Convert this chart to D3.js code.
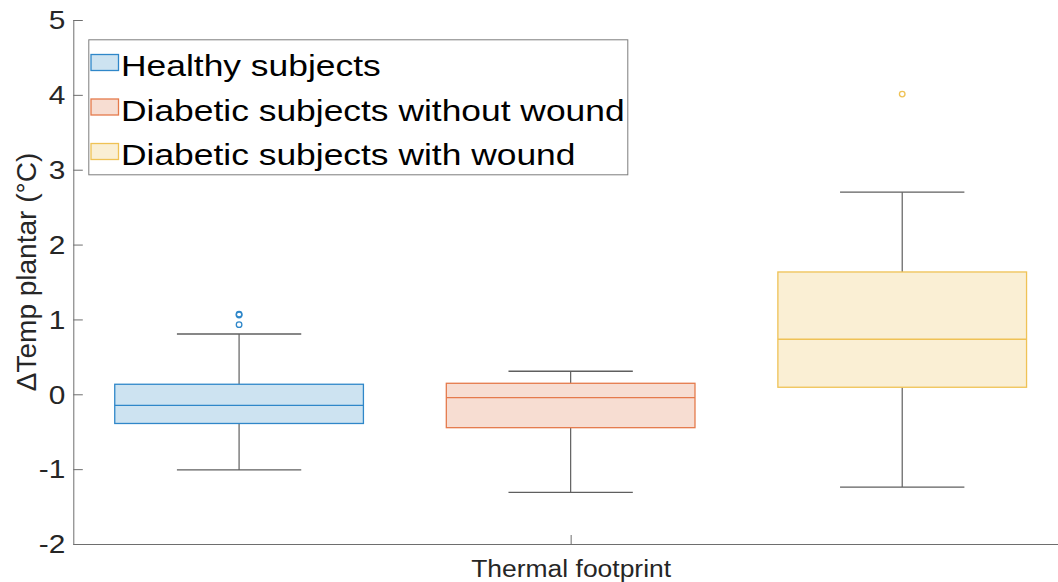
<!DOCTYPE html>
<html>
<head>
<meta charset="utf-8">
<script src="https://cdn.jsdelivr.net/npm/d3@7"></script>
<style>
  html, body { margin: 0; padding: 0; background: #fff; }
  svg { display: block; font-family: "Liberation Sans", Arial, Helvetica, sans-serif; }
</style>
</head>
<body>
<svg id="chart" width="1058" height="582"></svg>
<script>
// Group names and box-plot statistics (ΔTemp plantar, °C)
const groups = ["Healthy subjects", "Diabetic subjects without wound", "Diabetic subjects with wound"];
const whiskerLow  = [-1.01, -1.31, -1.24];
const q1          = [-0.39, -0.446, 0.094];
const median      = [-0.147, -0.045, 0.735];
const q3          = [0.134, 0.147, 1.634];
const whiskerHigh = [0.805, 0.307, 2.70];
const outliers    = [[1.07, 1.06, 0.93], [], [4.01]];
const yTicks = [-2, -1, 0, 1, 2, 3, 4, 5];
const xCategories = ["Thermal footprint"];

// Per-group colours: edge and translucent fill
const edgeColors = ["#2f87c9", "#e57a4c", "#efc255"];
const fillColors = ["#cde3f1", "#f7ddd2", "#faefd4"];

const svg = d3.select("#chart");
const plotLeft = 73.3, plotRight = 1068, plotTop = 20, plotBottom = 544;

const x = d3.scaleLinear().domain([0.5, 1.5]).range([plotLeft, plotRight]);
const y = d3.scaleLinear().domain([-2, 5]).range([plotBottom, plotTop]);

const boxW = 0.25;           // box width in category units
const capW = boxW / 2;       // whisker cap width
const groupPos = i => 1 + (i - 1) / 3;   // boxes grouped around the category

const axisColor = "#6e6e6e";
const textColor = "#262626";
const whiskerColor = "#5f5f5f";
const stretch = 1.17;        // horizontal stretch of the text glyphs

// Y axis
const yAxis = d3.axisLeft(y).tickValues(yTicks).tickSizeInner(-9.5).tickSizeOuter(0).tickPadding(0);
const gy = svg.append("g").attr("transform", `translate(${plotLeft},0)`).call(yAxis);
gy.select(".domain").attr("stroke", axisColor).attr("d", `M0.5,${plotTop}V${plotBottom}`);
gy.selectAll(".tick line").attr("stroke", axisColor);
gy.selectAll(".tick text")
  .attr("x", 0).attr("dy", null)
  .attr("dominant-baseline", "central")
  .attr("fill", textColor)
  .style("font-size", "25.5px")
  .attr("transform", `translate(-8,0) scale(${stretch},1)`)
  .text(d => d);

// X axis
const xAxis = d3.axisBottom(x).tickValues([1]).tickFormat((d, i) => xCategories[i])
  .tickSizeInner(-9).tickSizeOuter(0).tickPadding(0);
const gx = svg.append("g").attr("transform", `translate(0,${plotBottom})`).call(xAxis);
gx.select(".domain").attr("stroke", axisColor).attr("d", `M${plotLeft},0.5H${plotRight}`);
gx.selectAll(".tick line").attr("stroke", axisColor);
gx.selectAll(".tick text")
  .attr("y", 0).attr("dy", null)
  .attr("fill", textColor)
  .style("font-size", "24.5px")
  .attr("transform", `translate(0,33) scale(1.08,1)`);

// Y axis label
svg.append("text")
  .attr("transform", `translate(36,272) rotate(-90)`)
  .attr("text-anchor", "middle")
  .attr("fill", textColor)
  .style("font-size", "28px")
  .text("ΔTemp plantar (°C)");

// Boxes
const boxes = svg.append("g");
groups.forEach((g, i) => {
  const cx = x(groupPos(i));
  const bx0 = x(groupPos(i) - boxW / 2), bx1 = x(groupPos(i) + boxW / 2);
  const cx0 = x(groupPos(i) - capW / 2), cx1 = x(groupPos(i) + capW / 2);
  const grp = boxes.append("g");
  // whiskers
  grp.append("line").attr("x1", cx).attr("x2", cx).attr("y1", y(q3[i])).attr("y2", y(whiskerHigh[i]))
    .attr("stroke", whiskerColor).attr("stroke-width", 1.2);
  grp.append("line").attr("x1", cx).attr("x2", cx).attr("y1", y(q1[i])).attr("y2", y(whiskerLow[i]))
    .attr("stroke", whiskerColor).attr("stroke-width", 1.2);
  grp.append("line").attr("x1", cx0).attr("x2", cx1).attr("y1", y(whiskerHigh[i])).attr("y2", y(whiskerHigh[i]))
    .attr("stroke", whiskerColor).attr("stroke-width", 1.4);
  grp.append("line").attr("x1", cx0).attr("x2", cx1).attr("y1", y(whiskerLow[i])).attr("y2", y(whiskerLow[i]))
    .attr("stroke", whiskerColor).attr("stroke-width", 1.4);
  // box
  grp.append("rect")
    .attr("x", bx0).attr("y", y(q3[i]))
    .attr("width", bx1 - bx0).attr("height", y(q1[i]) - y(q3[i]))
    .attr("fill", fillColors[i]).attr("stroke", edgeColors[i]).attr("stroke-width", 1.3);
  // median
  grp.append("line").attr("x1", bx0).attr("x2", bx1).attr("y1", y(median[i])).attr("y2", y(median[i]))
    .attr("stroke", edgeColors[i]).attr("stroke-width", 1.3);
  // outliers
  grp.selectAll("circle").data(outliers[i]).join("circle")
    .attr("cx", cx).attr("cy", d => y(d)).attr("r", 2.8)
    .attr("fill", "none").attr("stroke", edgeColors[i]).attr("stroke-width", 1.3);
});

// Legend
const legX = 88.8, legY = 39.8, legW = 539, legH = 135;
const leg = svg.append("g");
leg.append("rect").attr("x", legX).attr("y", legY).attr("width", legW).attr("height", legH)
  .attr("fill", "#fff").attr("stroke", "#7d7d7d").attr("stroke-width", 1);
groups.forEach((g, i) => {
  const cy = 62.5 + i * 44.5;
  leg.append("rect").attr("x", 91).attr("y", cy - 8).attr("width", 27.5).attr("height", 16)
    .attr("fill", fillColors[i]).attr("stroke", edgeColors[i]).attr("stroke-width", 1.3);
  leg.append("text")
    .attr("transform", `translate(121,${cy + 13.5}) scale(1.2,1)`)
    .attr("fill", "#000")
    .style("font-size", "29.5px")
    .text(g);
});
</script>
</body>
</html>
